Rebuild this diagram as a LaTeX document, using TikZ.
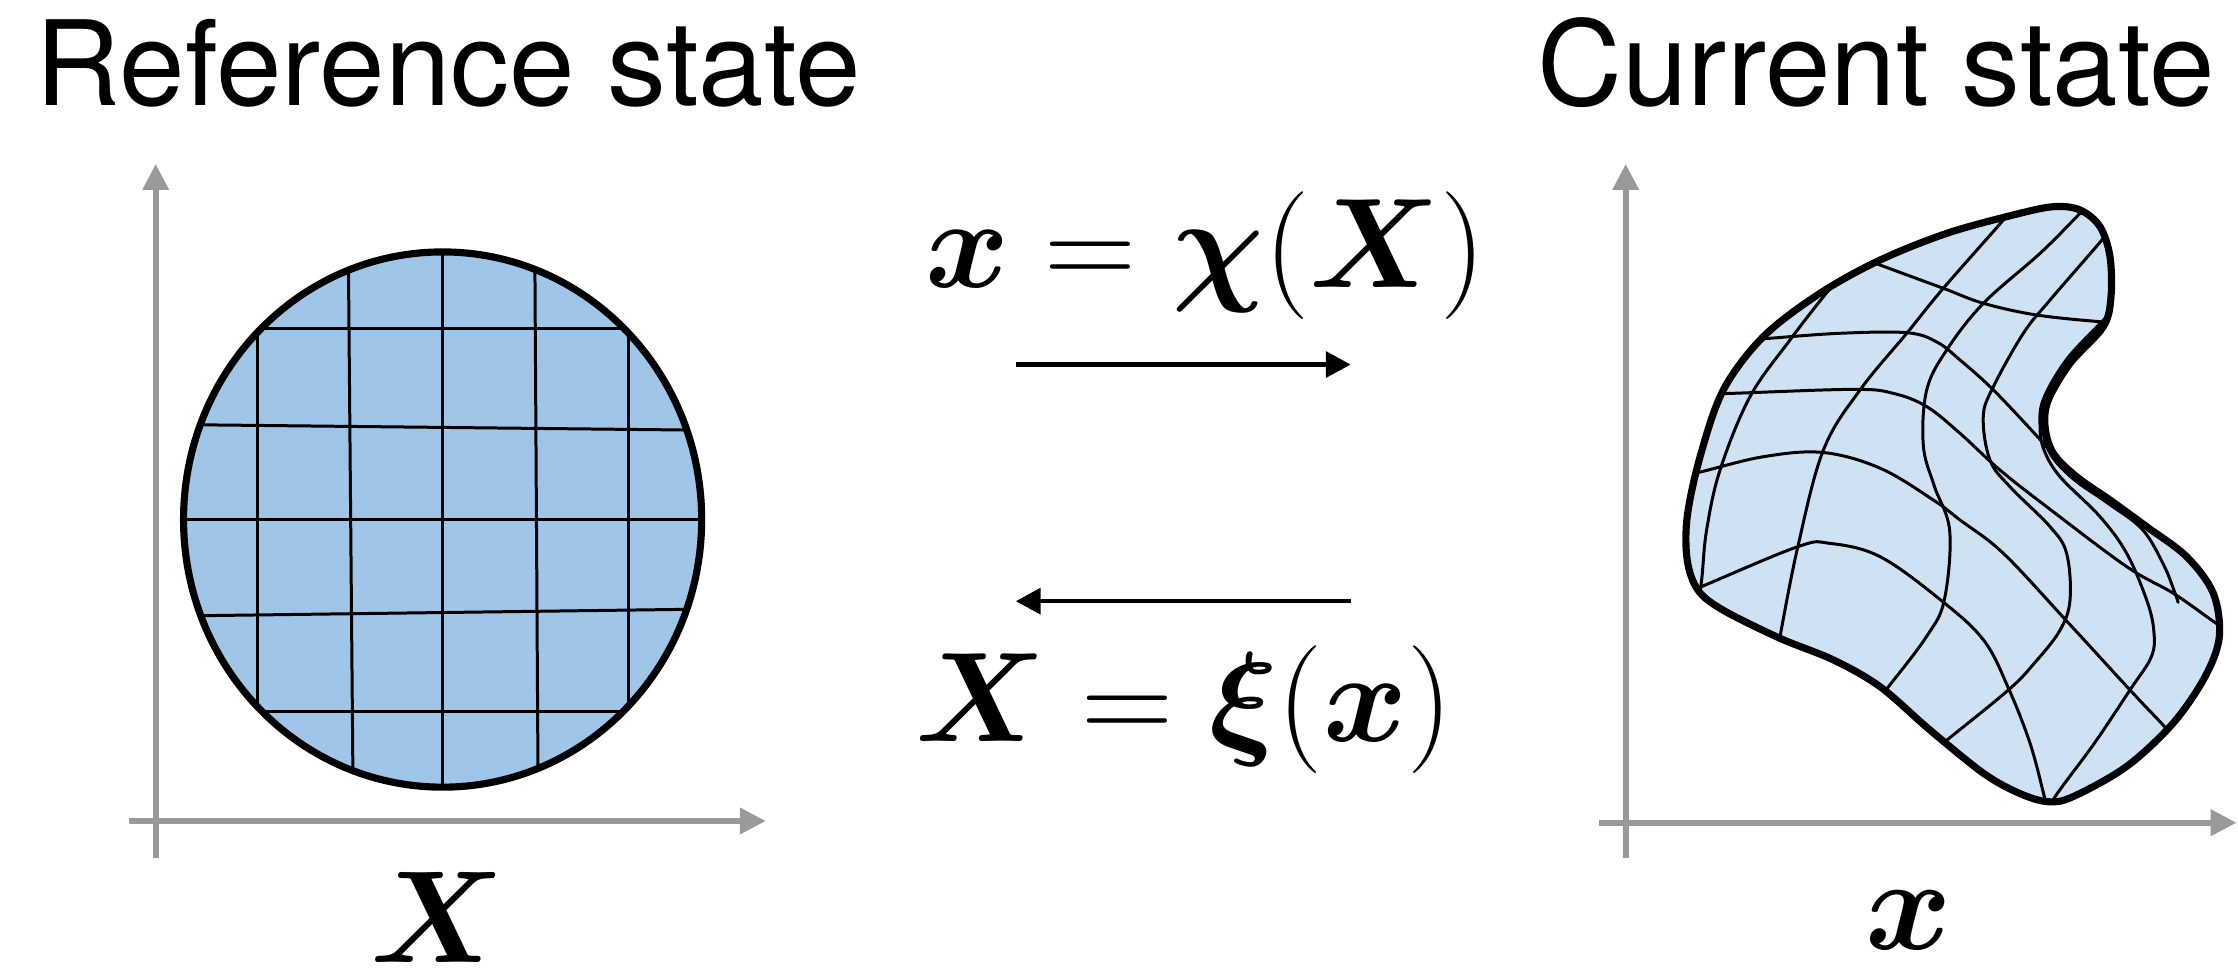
\RequirePackage{fix-cm}
\documentclass[tikz,border=0pt]{standalone}
\usepackage{fontspec}
\usepackage{bm}
\usetikzlibrary{arrows.meta}
\newfontfamily\titlefont{TeX Gyre Heros}
\definecolor{refblue}{HTML}{9FC5E8}
\definecolor{curblue}{HTML}{CFE2F3}
\definecolor{axisgray}{HTML}{999999}
\def\rsBlob{plot[smooth cycle,tension=0.55] coordinates {
(1438.6,144.8) (1457.3,147.1) (1471.3,158.8) (1478.3,179.8) (1479,207.9) (1473.6,228.9)
(1450.3,254.6) (1435.1,280.3) (1432.8,298.9) (1438.6,317.6) (1454.9,334.0)
(1478.3,350.3) (1504,369) (1532,390) (1550.7,415.7) (1554.9,446.1) (1544.9,474.1) (1522.4,506.8)
(1489.8,537.1) (1452.3,558.2) (1434.8,561.7) (1414.8,555.8) (1389.7,541.8) (1352.2,511.5)
(1317.2,481.1) (1284.6,462.4) (1247.1,447.2) (1207.1,427.4) (1189.6,413.4) (1182.1,392.4)
(1182.1,362.0) (1191.1,320.0) (1207.4,273.2) (1235.4,235.9) (1275.1,205.5) (1317.2,182.2)
(1363.9,163.5) (1410.6,150.6)}}
\begin{document}
\begin{tikzpicture}[x=1pt,y=-1pt,
  axis/.style={draw=axisgray,line width=4pt,-{Triangle[length=18.2pt,width=17.8pt]}},
  maparrow/.style={draw=black,line width=3.2pt,-{Triangle[length=17.4pt,width=18pt]}},
  gridline/.style={line width=2.1pt,line cap=round},
  outline/.style={line width=5pt},
  titletext/.style={font=\titlefont\fontsize{82.5}{96}\selectfont,anchor=base west,inner sep=0pt},
  formula/.style={font=\fontsize{89.5}{104}\selectfont,anchor=base west,inner sep=0pt},
  axlabel/.style={font=\fontsize{92}{110}\selectfont,anchor=base,inner sep=0pt}]
\useasboundingbox[fill=white] (0,0) rectangle (1568,680);

% titles
\node[titletext] (reftitle) at (25,73.6) {Reference state};
\node[titletext] (curtitle) at (1077,73.6) {Current state};

% left axes
\coordinate (lvb) at (109.1,601.4); \coordinate (lvt) at (109.1,114.9);
\coordinate (lhl) at (90.6,575.2);  \coordinate (lhr) at (536.5,575.2);
\draw[axis] (lvb) -- (lvt);
\draw[axis] (lhl) -- (lhr);
% right axes
\coordinate (rvb) at (1139,601.4); \coordinate (rvt) at (1139,114.9);
\coordinate (rhl) at (1120.2,576.4); \coordinate (rhr) at (1567,576.4);
\draw[axis] (rvb) -- (rvt);
\draw[axis] (rhl) -- (rhr);

% reference disc with grid
\coordinate (cc) at (310.1,364);
\begin{scope}
  \clip (cc) ellipse [x radius=181.5, y radius=187.5];
  \fill[refblue] (cc) ellipse [x radius=181.5, y radius=187.5];
  \draw[gridline] (180.1,160) -- (180.1,570);
  \draw[gridline] (243.9,160) -- (247.5,570);
  \draw[gridline] (310.1,160) -- (310.1,570);
  \draw[gridline] (374.6,160) -- (377.1,570);
  \draw[gridline] (440.1,160) -- (440.1,570);
  \draw[gridline] (100,229.9) -- (520,229.9);
  \draw[gridline] (100,297.2) -- (520,301.7);
  \draw[gridline] (100,364.0) -- (520,364.0);
  \draw[gridline] (100,431.9) -- (520,426.4);
  \draw[gridline] (100,498.2) -- (520,498.2);
\end{scope}
\draw[outline] (cc) ellipse [x radius=181.5, y radius=187.5];

% current (deformed) shape with grid
\begin{scope}
  \clip \rsBlob;
  \fill[curblue] \rsBlob;
  \begin{scope}[gridline]
  % columns
  \draw plot[smooth,tension=0.6] coordinates {(1289.3,194.2) (1277.5,207.9) (1254.1,238.2) (1226.1,277.9) (1205.1,329.3) (1195.7,371.3) (1192.3,405.4) (1189,430)};
  \draw plot[smooth,tension=0.6] coordinates {(1410,145) (1403.6,154.1) (1361.5,202.0) (1335.9,233.5) (1303.2,273.2) (1277.5,315.3) (1259.6,383.0) (1247.1,446.1) (1245,460)};
  \draw plot[smooth,tension=0.6] coordinates {(1462,144) (1455,151.8) (1429.3,177.5) (1389.6,212.5) (1363.9,245.2) (1349.9,273.2) (1347.5,312) (1355,340) (1366,372) (1362.2,420.4) (1349.7,446.1) (1322.2,482.3) (1312,495)};
  \draw plot[smooth,tension=0.6] coordinates {(1478,160) (1473.1,167.6) (1436.3,210.2) (1417.6,233.5) (1396.6,270.9) (1389.5,291.9) (1394.2,322.3) (1408.2,341.0) (1436.3,369.0) (1447.9,387.7) (1450.3,420.4) (1443,442) (1425,465) (1406.9,483.6) (1362.8,519.5) (1352,528)};
  \draw plot[smooth,tension=0.6] coordinates {(1480,218) (1469,229) (1447,253) (1431.5,280) (1429.3,299) (1432,315) (1443.3,334.0) (1471.3,362.0) (1490,387.7) (1504,420.4) (1509,442) (1507.3,460.1) (1492.3,483.4) (1467.3,520.8) (1439.8,558.2) (1435,570)};
  \draw plot[smooth,tension=0.6] coordinates {(1473,226) (1448.5,253) (1433.3,279.5) (1431,299) (1436.5,318) (1452.5,335.5) (1476,352) (1501,371) (1516,396) (1524,416) (1526,422)};
  % rows
  \draw plot[smooth,tension=0.6] coordinates {(1298.5,178.7) (1317.2,185.7) (1361.5,202.0) (1389.6,212.5) (1426.9,220.7) (1471.3,225.4) (1485.3,225.8)};
  \draw plot[smooth,tension=0.6] coordinates {(1223.8,238.2) (1240.1,237.0) (1289.2,233.5) (1335.9,233.1) (1356.9,239.6) (1373.2,252.2) (1396.6,273.2) (1428,306.5) (1433,313)};
  \draw plot[smooth,tension=0.6] coordinates {(1195,276) (1213.2,275.6) (1298.5,272.8) (1326.5,275.6) (1349.9,284.9) (1373.2,303.6) (1401.2,329.3) (1433.9,355.0) (1490,397) (1522.7,415.7) (1551.1,435.6) (1560,441)};
  \draw plot[smooth,tension=0.6] coordinates {(1175,334) (1192,330.5) (1235.4,320.0) (1277,317) (1317.2,328) (1354.5,350.3) (1373.2,364.3) (1403.6,387.7) (1447.3,434.4) (1492.3,483.4) (1511.1,503.3) (1525,518)};
  \draw plot[smooth,tension=0.6] coordinates {(1175,418) (1192.1,411.0) (1259.6,383.0) (1282.1,380.7) (1317.2,390.0) (1359.7,420.4) (1389.7,448.4) (1407.2,482.3) (1422.3,520.8) (1432.3,558.2) (1435,570)};
  \end{scope}
\end{scope}
\draw[outline] \rsBlob;

% mapping formulas and arrows
\node[formula] (fwd) at (648,201.4) {$\bm{x} = \bm{\chi}(\bm{X})$};
\node[formula] (bwd) at (641,519.5) {$\bm{X} = \bm{\xi}(\bm{x})$};
\coordinate (fs) at (711.7,255.4); \coordinate (fe) at (946.3,255.4);
\coordinate (bs) at (946.3,421.2); \coordinate (be) at (711.7,421.2);
\draw[maparrow] (fs) -- (fe);
\draw[maparrow] (bs) -- (be);

% axis labels
\node[axlabel] (Xlab) at (306.5,674) {$\bm{X}$};
\node[axlabel] (xlab) at (1337.6,665) {$\bm{x}$};
\end{tikzpicture}
\end{document}
